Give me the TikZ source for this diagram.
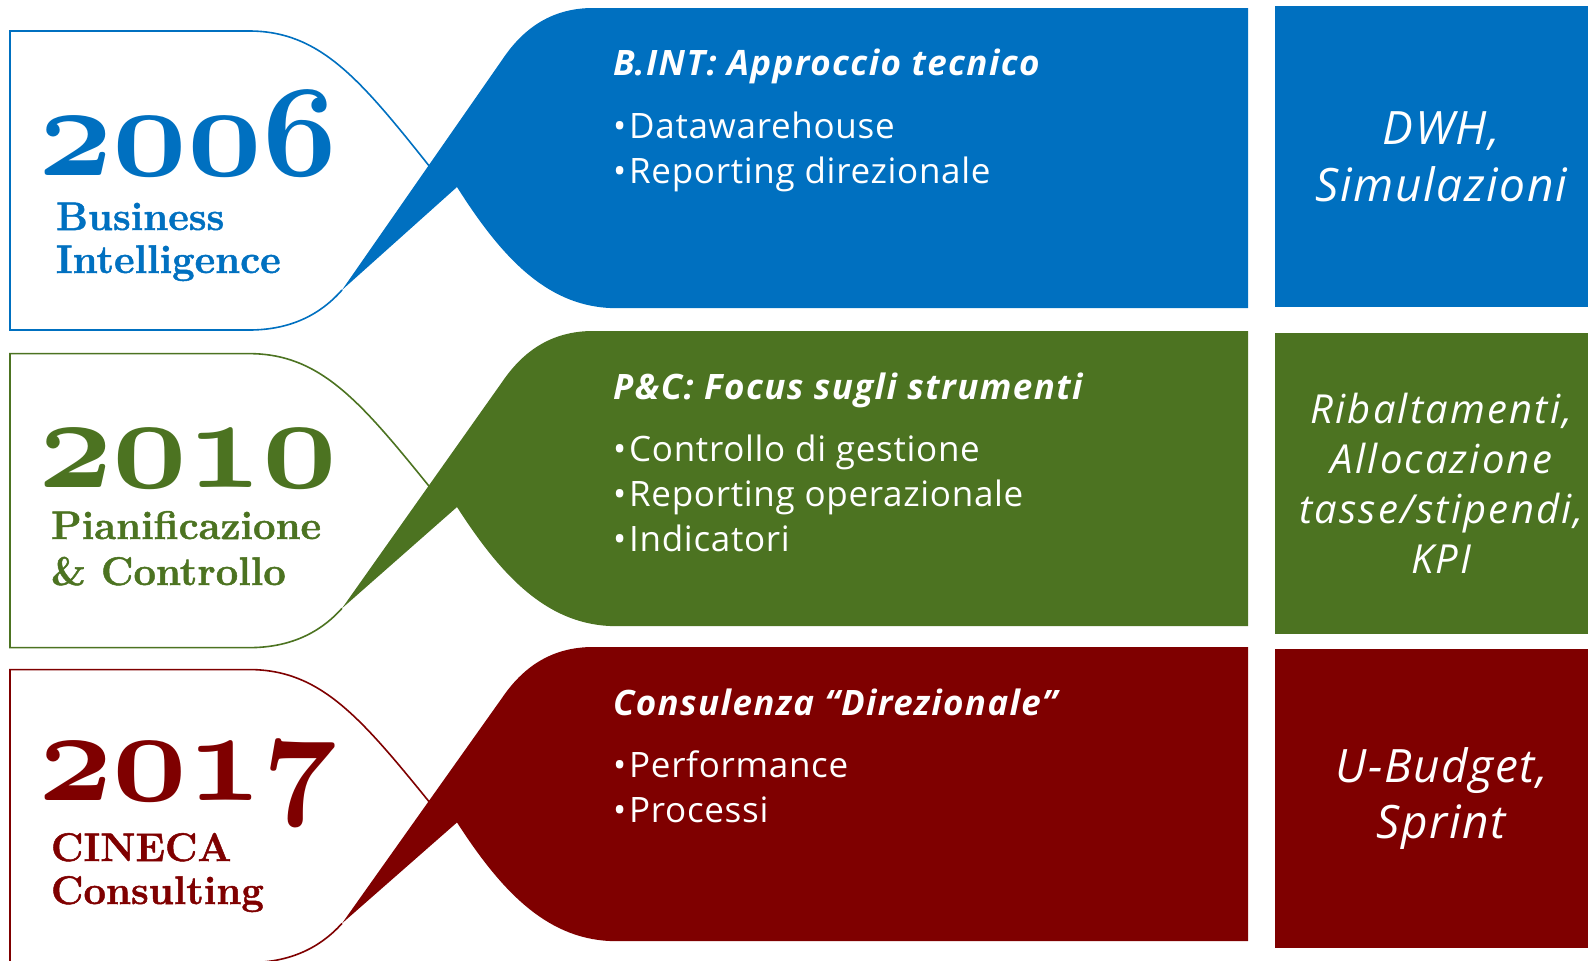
\documentclass[tikz,border=0pt]{standalone}
\usepackage{fontspec}
\newfontfamily\opensans{Open Sans}
\newfontfamily\tagfont{Latin Modern Roman}[BoldFeatures={FakeBold=1.2}]
\DeclareFontShape{OML}{cmm}{b}{it}{<->cmmib10}{\skewchar\font'177}
\newcommand\yearfont{\fontsize{65}{65}\usefont{OML}{cmm}{b}{it}}
\definecolor{rowblue}{RGB}{0,112,192}
\definecolor{rowgreen}{RGB}{76,115,33}
\definecolor{rowred}{RGB}{127,0,0}
\begin{document}
\begin{tikzpicture}[x=0.5pt,y=-0.5pt,inner sep=0pt,outer sep=0pt,
yearlbl/.style={anchor=base west,font=\yearfont},
namelbl/.style={anchor=base west,font=\tagfont\bfseries\fontsize{20}{20}\selectfont},
headlbl/.style={anchor=base west,text=white,font=\opensans\bfseries\itshape\fontsize{17.5}{17.5}\selectfont\addfontfeatures{LetterSpace=4}},
itemlbl/.style={anchor=base west,text=white,font=\opensans\fontsize{17.5}{17.5}\selectfont\addfontfeatures{LetterSpace=2}},
sidebox/.style={rectangle,inner sep=0pt,text=white,align=center,minimum width=166.5pt}]
\useasboundingbox (0,0) rectangle (1588,960);
% ribbons: outlined tag on the left, twisted band on the right
\foreach \T/\H/\col in {8/300/rowblue,331/295/rowgreen,647/294/rowred}{
\begin{scope}[shift={(0,\T)},yscale=\H/300]
\draw[\col,line width=0.8pt] (342,282) .. controls (320,307) and (290,322) .. (249,322) -- (10,322) -- (10,23) -- (249,23) .. controls (320,23) and (360,71) .. (430,159);
\fill[\col] (1248,0) -- (593,0) .. controls (550,0) and (522,22) .. (502,52) -- (342,282) -- (457,179) .. controls (500,247) and (545,297) .. (610,300) -- (1248,300) -- cycle;
\end{scope}}
% years
\node[yearlbl,text=rowblue] (y2006) at (38,175) {2006};
\node[namelbl,text=rowblue] (bi1) at (56,230) {Business};
\node[namelbl,text=rowblue] (bi2) at (56,273) {Intelligence};
\node[yearlbl,text=rowgreen] (y2010) at (38,487) {2010};
\node[namelbl,text=rowgreen] (pc1) at (51,539) {Pianificazione};
\node[namelbl,text=rowgreen] (pc2) at (51,585) {\& Controllo};
\node[yearlbl,text=rowred] (y2017) at (38,800) {2017};
\node[namelbl,text=rowred] (cc1) at (51,861) {CINECA};
\node[namelbl,text=rowred] (cc2) at (51,904) {Consulting};
% contents
\node[headlbl] (bint) at (613,75) {B.INT: Approccio tecnico};
\node[itemlbl] (bint1) at (613,138) {•\hspace{1.5pt}Datawarehouse};
\node[itemlbl] (bint2) at (613,183) {•\hspace{1.5pt}Reporting direzionale};
\node[headlbl] (pec) at (613,399) {P\&C: Focus sugli strumenti};
\node[itemlbl] (pec1) at (613,461) {•\hspace{1.5pt}Controllo di gestione};
\node[itemlbl] (pec2) at (613,506) {•\hspace{1.5pt}Reporting operazionale};
\node[itemlbl] (pec3) at (613,551) {•\hspace{1.5pt}Indicatori};
\node[headlbl] (cons) at (613,715) {Consulenza “Direzionale”};
\node[itemlbl] (cons1) at (613,777) {•\hspace{1.5pt}Performance};
\node[itemlbl] (cons2) at (613,822) {•\hspace{1.5pt}Processi};
% products
\node[sidebox,fill=rowblue,minimum height=150.5pt,font=\opensans\itshape\fontsize{23}{28.5}\selectfont\addfontfeatures{LetterSpace=3.5}] (dwh) at (1441.5,156.5) {DWH,\\Simulazioni};
\node[sidebox,fill=rowgreen,minimum height=150.5pt,font=\opensans\itshape\fontsize{20}{25}\selectfont\addfontfeatures{LetterSpace=5.5}] (kpi) at (1441.5,483.5) {Ribaltamenti,\\Allocazione\\tasse/stipendi,\\KPI};
\node[sidebox,fill=rowred,minimum height=149.5pt,font=\opensans\itshape\fontsize{23}{28}\selectfont\addfontfeatures{LetterSpace=3.5}] (ubud) at (1441.5,798.5) {U-Budget,\\Sprint};
\end{tikzpicture}
\end{document}
